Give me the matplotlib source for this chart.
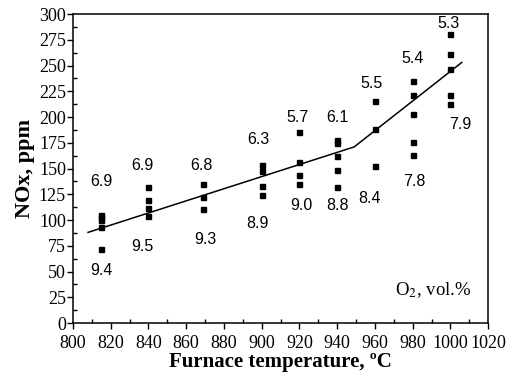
import matplotlib
matplotlib.use('Agg')
import matplotlib.pyplot as plt
from matplotlib.ticker import MultipleLocator

# measured NOx, ppm at each furnace temperature
temps = [815, 840, 869, 900, 920, 940, 960, 980, 1000]
nox = [
    [105, 103, 100, 93, 72],
    [132, 119, 112, 104],
    [135, 122, 111],
    [153, 148, 133, 124],
    [185, 156, 144, 135],
    [178, 175, 162, 149, 132],
    [216, 188, 152],
    [235, 221, 203, 176, 163],
    [281, 261, 247, 221, 213],
]

# trend line (two segments)
fit_x = [808, 949, 1006]
fit_y = [88, 171, 253]

# O2 labels: low O2 above points, high O2 below
o2_top = ['6.9', '6.9', '6.8', '6.3', '5.7', '6.1', '5.5', '5.4', '5.3']
top_x = [815, 837, 868, 898, 919, 940, 958, 980, 999]
top_y = [137, 153, 153, 178, 200, 200, 233, 257, 291]
o2_bot = ['9.4', '9.5', '9.3', '8.9', '9.0', '8.8', '8.4', '7.8', '7.9']
bot_x = [815, 837, 870, 898, 921, 940, 957, 981, 1005]
bot_y = [51, 74, 81, 97, 114, 114, 121, 137, 193]

fig = plt.figure(figsize=(5.21, 3.80), dpi=100)
ax = fig.add_axes([0.140, 0.150, 0.797, 0.813])

for t, vals in zip(temps, nox):
    ax.plot([t] * len(vals), vals, linestyle='none', marker='s',
            markersize=3.6, color='black')

ax.plot(fit_x, fit_y, color='black', linewidth=1.1)

for s, x, y in zip(o2_top, top_x, top_y):
    ax.text(x, y, s, ha='center', va='center', fontsize=11.5,
            family='Liberation Sans')
for s, x, y in zip(o2_bot, bot_x, bot_y):
    ax.text(x, y, s, ha='center', va='center', fontsize=11.5,
            family='Liberation Sans')

ax.text(1011, 32, 'O$_{2}$, vol.%', ha='right', va='center', fontsize=13.5,
        family='Liberation Serif', math_fontfamily='stix')

ax.set_xlim(800, 1020)
ax.set_ylim(0, 300)
ax.xaxis.set_major_locator(MultipleLocator(20))
ax.xaxis.set_minor_locator(MultipleLocator(10))
ax.yaxis.set_major_locator(MultipleLocator(25))
ax.yaxis.set_minor_locator(MultipleLocator(12.5))
ax.tick_params(which='major', direction='out', length=4, width=1,
               labelsize=13, pad=1)
ax.tick_params(axis='x', which='major', pad=5)
ax.tick_params(which='minor', direction='in', length=3, width=1)
for lab in ax.get_xticklabels() + ax.get_yticklabels():
    lab.set_family('Liberation Serif')
for sp in ax.spines.values():
    sp.set_linewidth(1.1)

ax.set_xlabel('Furnace temperature, ºC', family='Liberation Serif',
              fontweight='bold', fontsize=15, labelpad=0)
ax.set_ylabel('NOx, ppm', family='Liberation Serif', fontweight='bold',
              fontsize=16, labelpad=3)

fig.savefig('out.png', dpi=100)
